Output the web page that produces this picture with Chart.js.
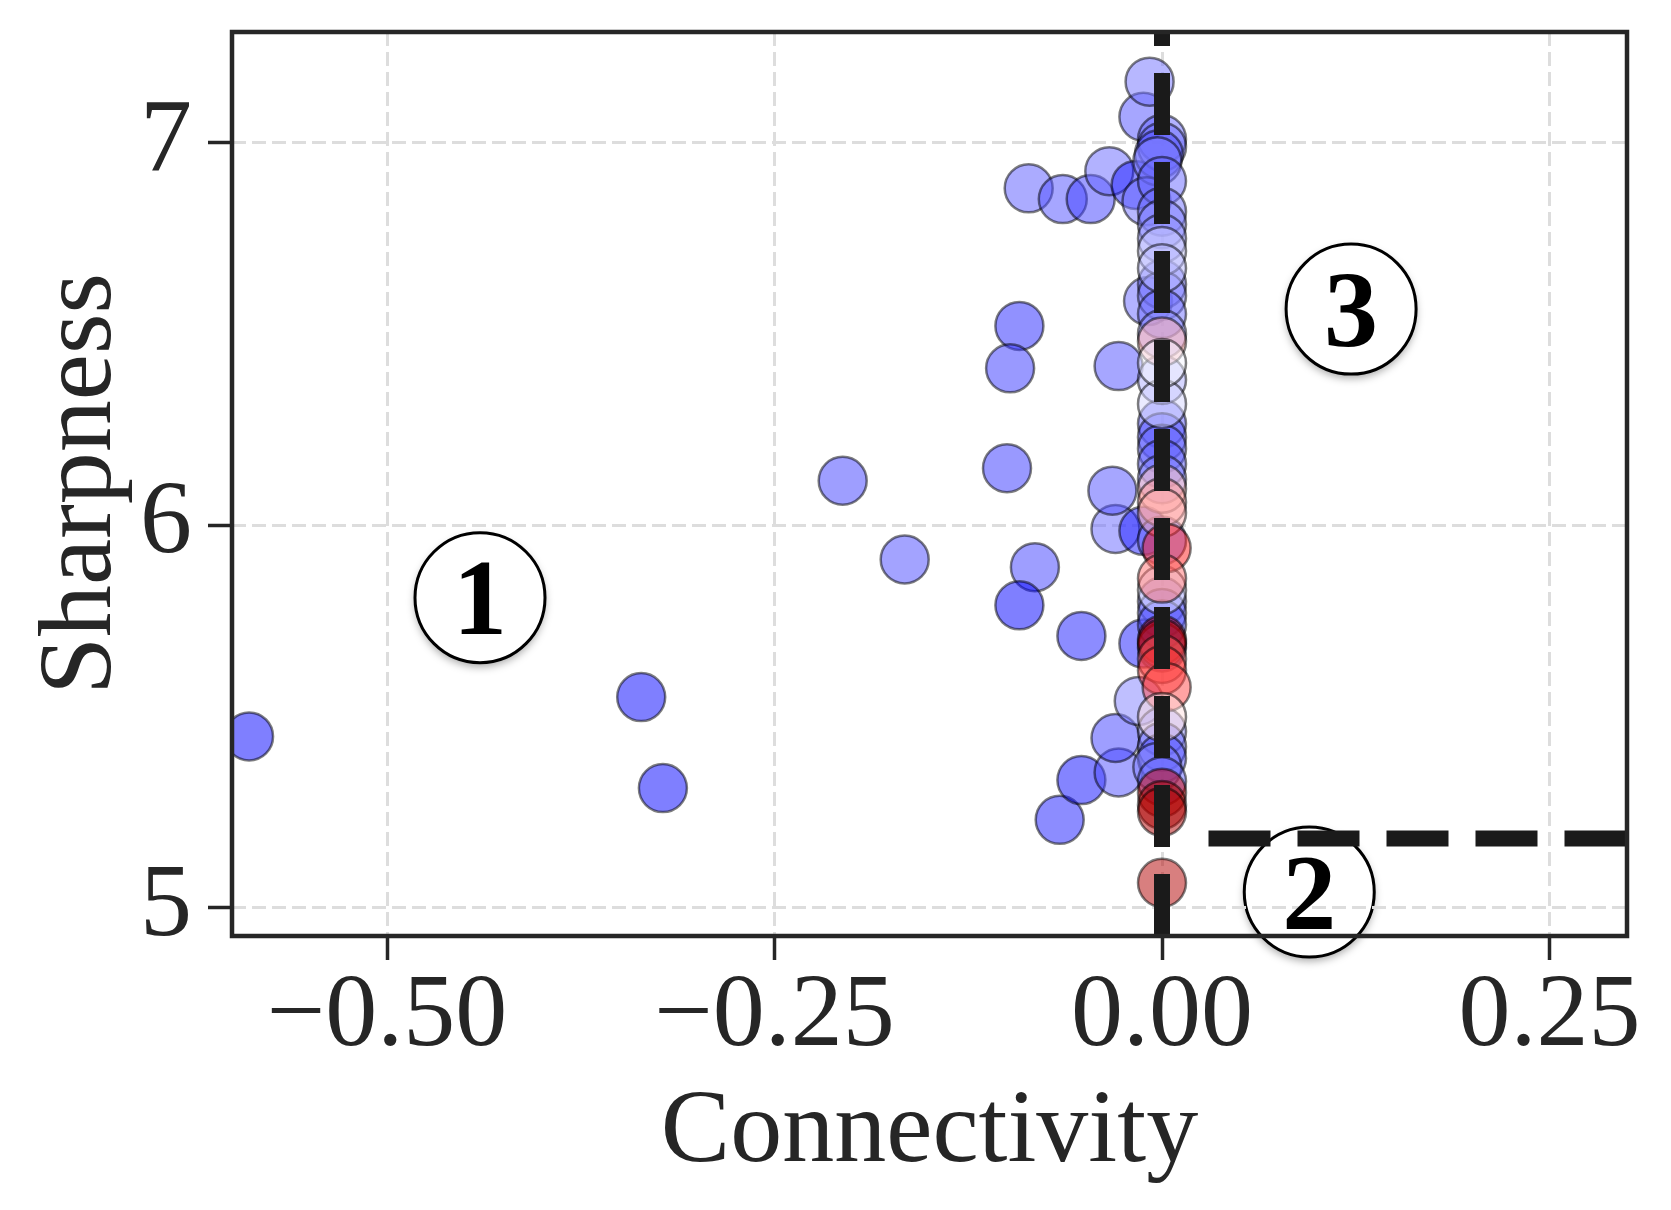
<!DOCTYPE html>
<html>
<head>
<meta charset="utf-8">
<script src="https://cdn.jsdelivr.net/npm/chart.js@4.4.0/dist/chart.umd.min.js"></script>
<style>
html,body{margin:0;padding:0;background:#ffffff;}
#wrap{width:1671px;height:1210px;}
</style>
</head>
<body>
<div id="wrap"><canvas id="c" width="1671" height="1210"></canvas></div>
<script>
// ---- data ----
const connectivity = [
  -0.589, -0.336, -0.322, -0.206, -0.166, -0.092, -0.098, -0.100, -0.082, -0.092,
  -0.052, -0.066, -0.052, -0.028, -0.030, -0.030, -0.032, -0.028, -0.086, -0.064,
  -0.046, -0.034, -0.017, -0.012, -0.008, -0.009, -0.015, -0.012, -0.012,
  0.000, 0.000, -0.002, -0.003, -0.010, 0.000, 0.000, 0.000, 0.000, 0.000,
  0.000, 0.000, 0.000, 0.000, 0.000, 0.000, 0.000, 0.000, 0.000, 0.000,
  0.000, 0.000, 0.000, 0.000, 0.000, 0.000, -0.003, 0.000,
  0.000, 0.000, 0.000, 0.000, 0.000,
  0.000, 0.000, 0.000, 0.000, 0.000, 0.003, 0.000, 0.000, 0.000, 0.000,
  0.000, 0.003, 0.000, 0.000, 0.000, 0.000, 0.000
];
const sharpness = [
  5.447, 5.550, 5.312, 6.116, 5.910, 6.521, 6.410, 6.149, 5.890, 5.790,
  5.710, 5.229, 5.333, 5.353, 5.443, 5.990, 6.090, 6.416, 6.881, 6.853,
  6.853, 6.926, 6.890, 7.068, 7.160, 6.586, 5.540, 5.985, 5.690,
  7.010, 6.990, 6.970, 6.952, 6.847, 6.900, 6.820, 6.787, 6.750, 6.630,
  6.600, 6.552, 6.500, 6.265, 6.230, 6.200, 6.160, 6.120, 5.960, 5.800,
  5.770, 5.740, 5.680, 5.460, 5.420, 5.390, 5.367, 5.330,
  6.717, 6.672, 6.380, 6.317, 5.830,
  6.480, 6.424, 6.095, 6.060, 6.032, 5.940, 5.860, 5.700, 5.690, 5.650,
  5.620, 5.576, 5.498, 5.300, 5.268, 5.250, 5.064
];
// colour value on a blue-white-red scale (0 = blue, 0.5 = white, 1 = dark red)
const colorValue = [
  0.00, 0.00, 0.00, 0.12, 0.14, 0.07, 0.10, 0.10, 0.12, 0.00,
  0.05, 0.05, 0.02, 0.15, 0.12, 0.20, 0.15, 0.15, 0.17, 0.15,
  0.12, 0.20, 0.05, 0.15, 0.22, 0.20, 0.25, 0.05, 0.05,
  0.20, 0.22, 0.15, 0.25, 0.22, 0.20, 0.22, 0.25, 0.28, 0.22,
  0.25, 0.22, 0.28, 0.18, 0.15, 0.20, 0.18, 0.25, 0.20, 0.25,
  0.20, 0.15, 0.20, 0.28, 0.20, 0.15, 0.25, 0.20,
  0.40, 0.36, 0.34, 0.42, 0.45,
  0.58, 0.48, 0.56, 0.60, 0.58, 0.72, 0.64, 0.95, 0.88, 0.66,
  0.70, 0.68, 0.53, 0.86, 0.95, 0.92, 0.92
];
const xTickValues = [-0.5, -0.25, 0, 0.25];
const xTickLabels = ['\u22120.50', '\u22120.25', '0.00', '0.25'];
const yTickValues = [5, 6, 7];
const yTickLabels = ['5', '6', '7'];
const xLimits = [-0.6, 0.3];
const yLimits = [4.925, 7.29];
const vLineX = 0;
const hLineY = 5.18;
const hLineXStart = 0.03;
const regionLabels = ['1', '2', '3'];
const regionX = [-0.44, 0.095, 0.122];
const regionY = [5.81, 5.04, 6.565];

// ---- colour map ----
const cmapStops = [[0, [0, 0, 255]], [0.5, [255, 255, 255]], [0.75, [255, 0, 0]], [1, [140, 0, 0]]];
function cmap(v, a) {
  for (let i = 1; i < cmapStops.length; i++) {
    const [v0, c0] = cmapStops[i - 1], [v1, c1] = cmapStops[i];
    if (v <= v1 || i === cmapStops.length - 1) {
      const t = Math.max(0, Math.min(1, (v - v0) / (v1 - v0)));
      const c = c0.map((x, k) => Math.round(x + (c1[k] - x) * t));
      return `rgba(${c[0]},${c[1]},${c[2]},${a})`;
    }
  }
}

const points = connectivity.map((x, i) => ({x: x, y: sharpness[i]}));
const pointColors = colorValue.map(v => cmap(v, 0.5));

const TXT = '#262626';
const SERIF = "'Liberation Serif', 'Times New Roman', serif";
const LINE_DASH = [62, 27];

const circlesPlugin = {
  id: 'regions',
  beforeDraw(chart) {
    const ctx = chart.ctx, xs = chart.scales.x, ys = chart.scales.y;
    ctx.save();
    for (let i = 0; i < regionLabels.length; i++) {
      const px = xs.getPixelForValue(regionX[i]);
      const py = ys.getPixelForValue(regionY[i]);
      ctx.save();
      ctx.shadowColor = 'rgba(0,0,0,0.35)';
      ctx.shadowBlur = 8;
      ctx.shadowOffsetY = 4;
      ctx.beginPath();
      ctx.arc(px, py, 65, 0, Math.PI * 2);
      ctx.fillStyle = '#ffffff';
      ctx.fill();
      ctx.restore();
      ctx.beginPath();
      ctx.arc(px, py, 65, 0, Math.PI * 2);
      ctx.lineWidth = 3;
      ctx.strokeStyle = '#000000';
      ctx.stroke();
    }
    ctx.restore();
  },
  afterDatasetsDraw(chart) {
    const ctx = chart.ctx, a = chart.chartArea;
    ctx.save();
    ctx.lineWidth = 4.5;
    ctx.strokeStyle = TXT;
    ctx.setLineDash([]);
    ctx.strokeRect(a.left, a.top, a.right - a.left, a.bottom - a.top);
    ctx.restore();
  },
  afterDraw(chart) {
    const ctx = chart.ctx, xs = chart.scales.x, ys = chart.scales.y;
    ctx.save();
    ctx.fillStyle = '#000000';
    ctx.font = "bold 108px " + SERIF;
    ctx.textAlign = 'center';
    ctx.textBaseline = 'alphabetic';
    for (let i = 0; i < regionLabels.length; i++) {
      const px = xs.getPixelForValue(regionX[i]);
      const py = ys.getPixelForValue(regionY[i]);
      ctx.fillText(regionLabels[i], px, py + 108 * 0.34);
    }
    ctx.restore();
  }
};

new Chart(document.getElementById('c'), {
  data: {
    datasets: [
      {
        type: 'line',
        data: [{x: vLineX, y: yLimits[0]}, {x: vLineX, y: yLimits[1]}],
        borderColor: '#1a1a1a',
        borderWidth: 16,
        borderDash: LINE_DASH,
        pointRadius: 0,
        fill: false,
        tension: 0,
        order: 0,
        clip: 0
      },
      {
        type: 'line',
        data: [{x: hLineXStart, y: hLineY}, {x: xLimits[1], y: hLineY}],
        borderColor: '#1a1a1a',
        borderWidth: 16,
        borderDash: LINE_DASH,
        pointRadius: 0,
        fill: false,
        tension: 0,
        order: 0,
        clip: 0
      },
      {
        type: 'scatter',
        data: points,
        pointRadius: 24,
        pointBorderWidth: 2.5,
        pointBackgroundColor: pointColors,
        pointBorderColor: 'rgba(0,0,0,0.5)',
        order: 1,
        clip: 0
      }
    ]
  },
  options: {
    responsive: false,
    devicePixelRatio: 1,
    animation: false,
    events: [],
    layout: {padding: {top: 32, right: 44, left: 0, bottom: 0}},
    plugins: {legend: {display: false}, tooltip: {enabled: false}},
    scales: {
      x: {
        type: 'linear',
        min: xLimits[0],
        max: xLimits[1],
        afterBuildTicks: s => { s.ticks = xTickValues.map(v => ({value: v})); },
        afterFit: s => { s.height = 274; s.paddingLeft = 0; s.paddingRight = 0; },
        ticks: {
          callback: (v) => xTickLabels[xTickValues.indexOf(v)],
          font: {family: SERIF, size: 104, lineHeight: 1.0},
          color: TXT,
          padding: 6,
          maxRotation: 0,
          autoSkip: false
        },
        grid: {color: '#dddddd', lineWidth: 3, tickLength: 24, tickWidth: 3.5, tickColor: TXT, tickBorderDash: []},
        border: {display: false, dash: [14, 6]},
        title: {display: true, text: 'Connectivity', color: TXT,
          font: {family: SERIF, size: 104, lineHeight: 1.2}, padding: {top: 0, bottom: 14}}
      },
      y: {
        type: 'linear',
        min: yLimits[0],
        max: yLimits[1],
        afterBuildTicks: s => { s.ticks = yTickValues.map(v => ({value: v})); },
        afterFit: s => { s.width = 232; s.paddingTop = 0; s.paddingBottom = 0; },
        ticks: {
          callback: (v) => yTickLabels[yTickValues.indexOf(v)],
          font: {family: SERIF, size: 104, lineHeight: 1.0},
          color: TXT,
          padding: 16,
          autoSkip: false
        },
        grid: {color: '#dddddd', lineWidth: 3, tickLength: 24, tickWidth: 3.5, tickColor: TXT, tickBorderDash: []},
        border: {display: false, dash: [14, 6]},
        title: {display: true, text: 'Sharpness', color: TXT,
          font: {family: SERIF, size: 104, lineHeight: 1.2}, padding: {top: 20, bottom: 0}}
      }
    }
  },
  plugins: [circlesPlugin]
});
</script>
</body>
</html>
